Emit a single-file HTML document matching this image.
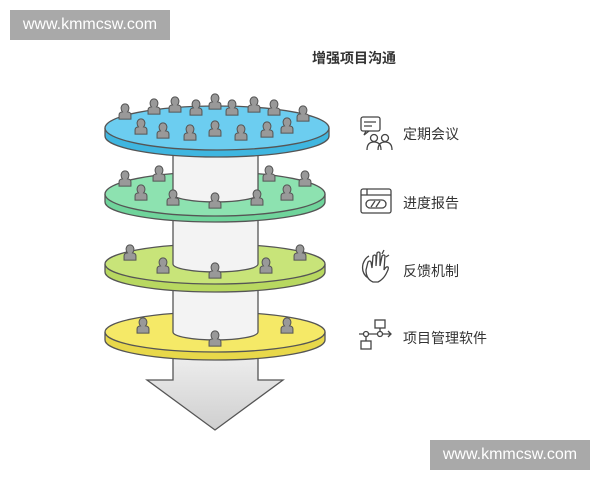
<!DOCTYPE html>
<html><head><meta charset="utf-8"><style>
body{margin:0;width:600px;height:480px;background:#fff;overflow:hidden;position:relative;font-family:"Liberation Sans","Noto Sans CJK SC",sans-serif}
.wm{position:absolute;background:#a9a9a9;color:#fff;font-size:16px;line-height:30px;text-align:center;width:160px;height:30px}
.lbl{position:absolute;font-size:14px;color:#333}
</style></head><body>
<svg width="600" height="480" style="position:absolute;left:0;top:0">
<defs>
<symbol id="p" viewBox="0 0 16 20" overflow="visible">
<path d="M1 19 V14 Q1 11 5 10.5 Q3 8 3.5 5 Q4.5 1 8 1 Q11.5 1 12.5 5 Q13 8 11 10.5 Q15 11 15 14 V19 Z" fill="#999" stroke="#555" stroke-width="1.2"/>
</symbol>
<linearGradient id="ag" x1="0" y1="0" x2="0" y2="1"><stop offset="0" stop-color="#f4f4f4"/><stop offset="1" stop-color="#cfcfcf"/></linearGradient>
</defs>
<!-- arrow -->
<path d="M173 340 V380 H147 L215 430 L283 380 H258 V340 Z" fill="url(#ag)" stroke="#555" stroke-width="1.3"/>
<!-- yellow -->
<path d="M105 332 V340 A110 20 0 0 0 325 340 V332" fill="#e8d84a" stroke="#555" stroke-width="1.3"/>
<ellipse cx="215" cy="332" rx="110" ry="20" fill="#f5e967" stroke="#555" stroke-width="1.3"/>
<path d="M173 272 V332 A42.5 8 0 0 0 258 332 V272 Z" fill="#f3f3f3"/>
<path d="M173 272 V332 A42.5 8 0 0 0 258 332 V272" fill="none" stroke="#555" stroke-width="1.3"/>
<!-- olive -->
<path d="M105 264 V272 A110 20 0 0 0 325 272 V264" fill="#b8d860" stroke="#555" stroke-width="1.3"/>
<ellipse cx="215" cy="264" rx="110" ry="20" fill="#c8e479" stroke="#555" stroke-width="1.3"/>
<path d="M173 202 V264 A42.5 8 0 0 0 258 264 V202 Z" fill="#f3f3f3"/>
<path d="M173 202 V264 A42.5 8 0 0 0 258 264 V202" fill="none" stroke="#555" stroke-width="1.3"/>
<!-- green -->
<path d="M105 194 V202 A110 20 0 0 0 325 202 V194" fill="#6fd49b" stroke="#555" stroke-width="1.3"/>
<ellipse cx="215" cy="194" rx="110" ry="22" fill="#8de2b0" stroke="#555" stroke-width="1.3"/>
<path d="M173 136 V194 A42.5 8 0 0 0 258 194 V136 Z" fill="#f3f3f3"/>
<path d="M173 136 V194 A42.5 8 0 0 0 258 194 V136" fill="none" stroke="#555" stroke-width="1.3"/>
<!-- blue -->
<path d="M105 128 V136 A112 21 0 0 0 329 136 V128" fill="#3fb6e0" stroke="#555" stroke-width="1.3"/>
<ellipse cx="217" cy="128" rx="112" ry="22" fill="#6ccdf0" stroke="#555" stroke-width="1.3"/>
<!-- people blue -->
<g>
<use href="#p" x="118" y="103" width="14" height="17"/>
<use href="#p" x="147" y="98" width="14" height="17"/>
<use href="#p" x="168" y="96" width="14" height="17"/>
<use href="#p" x="189" y="99" width="14" height="17"/>
<use href="#p" x="208" y="93" width="14" height="17"/>
<use href="#p" x="225" y="99" width="14" height="17"/>
<use href="#p" x="247" y="96" width="14" height="17"/>
<use href="#p" x="267" y="99" width="14" height="17"/>
<use href="#p" x="296" y="105" width="14" height="17"/>
<use href="#p" x="134" y="118" width="14" height="17"/>
<use href="#p" x="156" y="122" width="14" height="17"/>
<use href="#p" x="183" y="124" width="14" height="17"/>
<use href="#p" x="208" y="120" width="14" height="17"/>
<use href="#p" x="234" y="124" width="14" height="17"/>
<use href="#p" x="260" y="121" width="14" height="17"/>
<use href="#p" x="280" y="117" width="14" height="17"/>
</g>
<!-- people green -->
<g>
<use href="#p" x="118" y="170" width="14" height="17"/>
<use href="#p" x="152" y="165" width="14" height="17"/>
<use href="#p" x="134" y="184" width="14" height="17"/>
<use href="#p" x="166" y="189" width="14" height="17"/>
<use href="#p" x="208" y="192" width="14" height="17"/>
<use href="#p" x="250" y="189" width="14" height="17"/>
<use href="#p" x="262" y="165" width="14" height="17"/>
<use href="#p" x="280" y="184" width="14" height="17"/>
<use href="#p" x="298" y="170" width="14" height="17"/>
</g>
<!-- people olive -->
<g>
<use href="#p" x="123" y="244" width="14" height="17"/>
<use href="#p" x="156" y="257" width="14" height="17"/>
<use href="#p" x="208" y="262" width="14" height="17"/>
<use href="#p" x="259" y="257" width="14" height="17"/>
<use href="#p" x="293" y="244" width="14" height="17"/>
</g>
<!-- people yellow -->
<g>
<use href="#p" x="136" y="317" width="14" height="17"/>
<use href="#p" x="208" y="330" width="14" height="17"/>
<use href="#p" x="280" y="317" width="14" height="17"/>
</g>
<!-- icons -->
<g fill="none" stroke="#444" stroke-width="1.3">
<rect x="361" y="117" width="19" height="14" rx="2"/><path d="M364 122h12M364 126h8M366 131l-2 4 5-4"/>
<circle cx="374" cy="138" r="3.5"/><circle cx="385" cy="138" r="3.5"/><path d="M367 150q0-8 7-8q7 0 7 8M378 150q0-8 7-8q7 0 7 8"/>
<rect x="361" y="189" width="30" height="24" rx="2"/><path d="M361 195h30M367 189v6"/><rect x="366" y="200" width="20" height="8" rx="4"/><path d="M371 207l4-6M376 207l4-6"/>
<path d="M368 278q-7-5-5-14q2-6 6-8M373 282q-7-3-7-12l2-8q2-2 3 0l1 6l1-12q2-2 3 0v10l1-13q2-2 3 0v13l2-10q2-2 3 0l-1 14q2-4 4-3q1 1-1 5q-3 7-9 10z M382 254l2-4M386 257l3-2"/>
<rect x="375" y="320" width="10" height="8"/><rect x="361" y="341" width="10" height="8"/><circle cx="366" cy="334" r="2.5"/><circle cx="380" cy="334" r="2.5"/>
<path d="M359 334h4.5M368.5 334h9M382.5 334h8M388 331l3 3-3 3M380 328v3.5M366 336.5v4.5"/>
</g>
</svg>
<div class="wm" style="left:10px;top:10px">www.kmmcsw.com</div>
<div class="wm" style="left:430px;top:440px">www.kmmcsw.com</div>
<div class="lbl" style="left:312px;top:48px;font-weight:bold;font-size:14px">增强项目沟通</div>
<div class="lbl" style="left:403px;top:124px">定期会议</div>
<div class="lbl" style="left:403px;top:193px">进度报告</div>
<div class="lbl" style="left:403px;top:261px">反馈机制</div>
<div class="lbl" style="left:403px;top:328px">项目管理软件</div>
</body></html>
